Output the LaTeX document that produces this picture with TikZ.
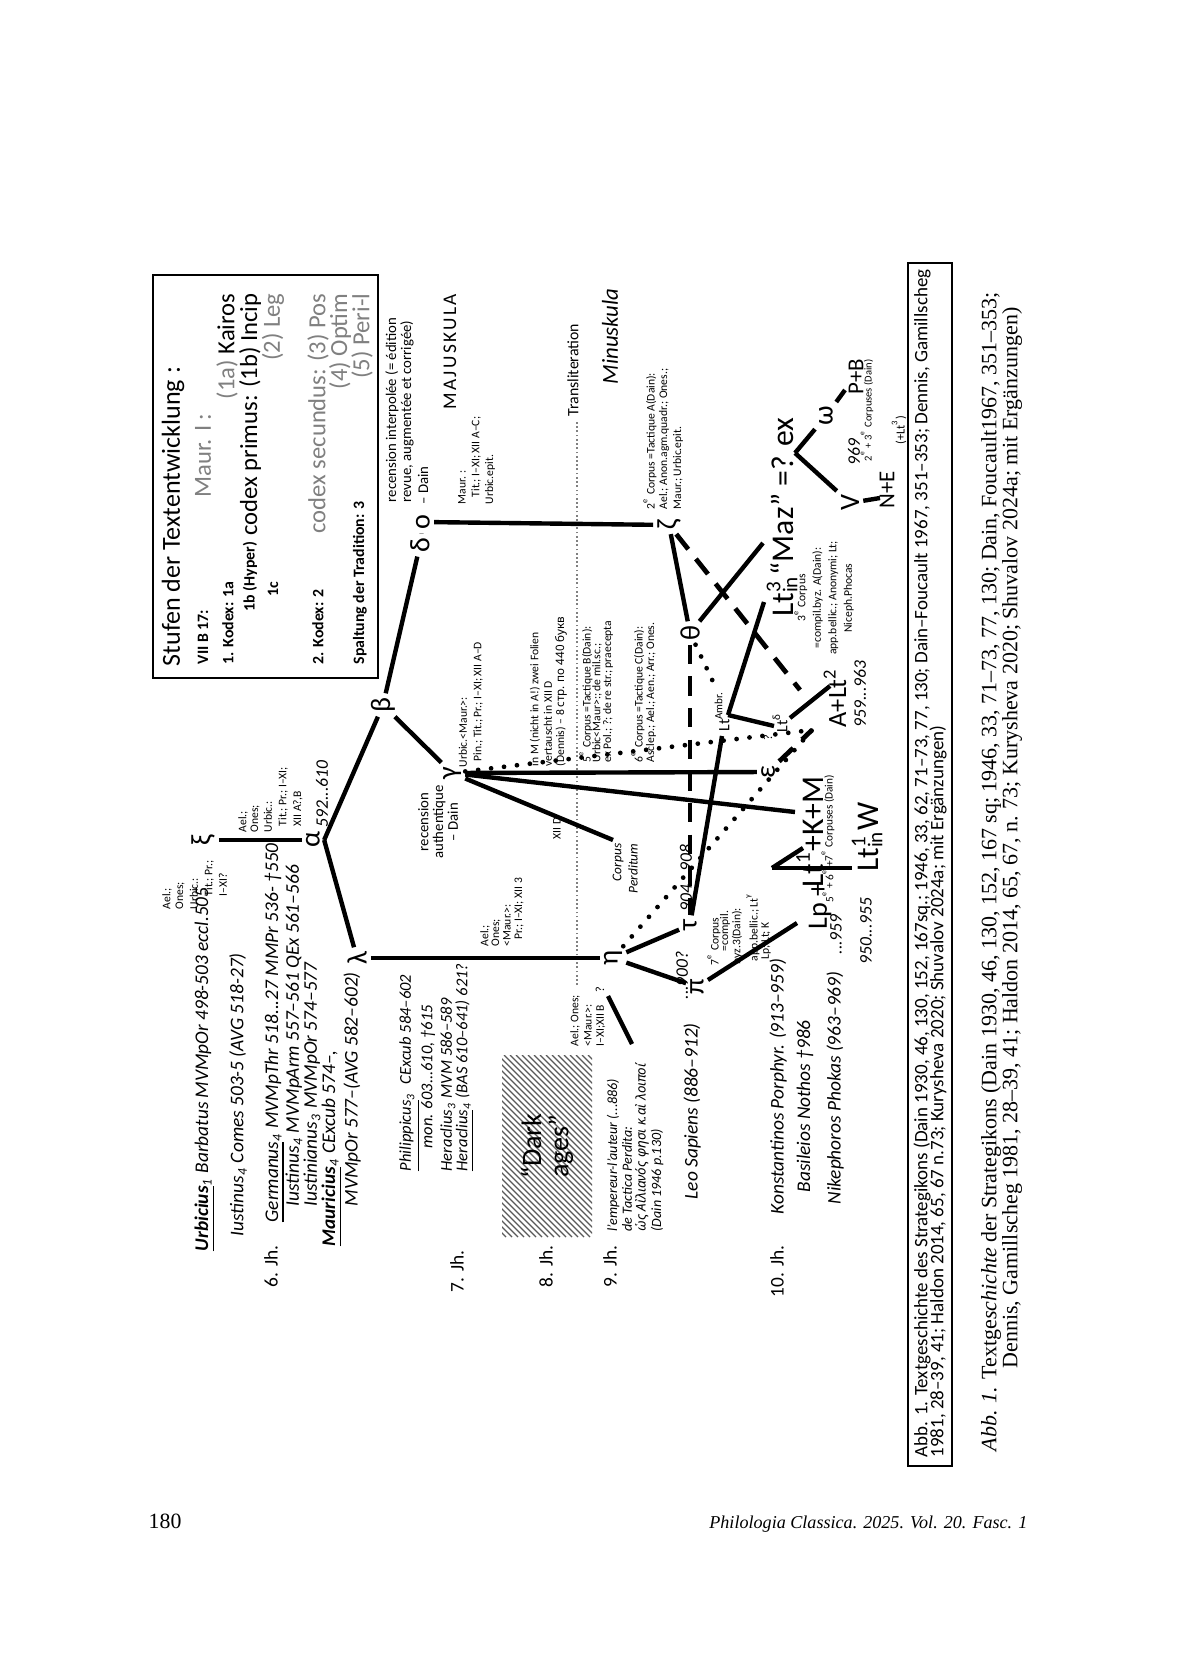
\documentclass[tikz,border=0pt]{standalone}
\usepackage{fontspec}
\setmainfont{Carlito}
\newfontfamily\serif{Liberation Serif}
\newfontfamily\notos{Noto Sans}
\newcommand{\fsz}[1]{\fontsize{#1}{#1}\selectfont}
\newcommand{\supsub}[2]{\rlap{\textsuperscript{#1}}\textsubscript{#2}}
\begin{document}
\begin{tikzpicture}[x=0.01cm,y=-0.01cm,
  rt/.style={rotate=90,anchor=west,inner sep=0pt},
  rte/.style={rotate=90,anchor=east,inner sep=0pt},
  rtc/.style={rotate=90,anchor=center,inner sep=0pt},
  sm/.style={rt,font=\fsz{3.3}},
  nm/.style={rt,font=\fsz{5.5}\itshape},
  nms/.style={rt,font=\fsz{4.7}\itshape},
  dt/.style={rt,font=\fsz{5}\itshape},
  bigt/.style={rt,font=\fsz{9}},
  gk/.style={rotate=90,inner sep=1pt,font=\fsz{8}},
  jh/.style={rte,font=\fsz{5.5}},
  boxb/.style={rt,font=\fsz{4.5}\bfseries},
  boxr/.style={rte,font=\fsz{7}},
  mid/.style={rt,font=\fsz{4.2}},
  ln/.style={line width=1.25pt},
  dsh/.style={line width=1.35pt,dash pattern=on 5.5pt off 3.5pt},
  dts/.style={line width=1.35pt,line cap=round,dash pattern=on 0pt off 3.7pt},
  trl/.style={gray,line width=0.4pt,dash pattern=on 0.5pt off 0.7pt},
  hatch/.style={gray!70!black,line width=0.35pt}
]
\useasboundingbox (0,0) rectangle (1200,1655);
\fill[white] (0,0) rectangle (1200,1655);

% ---------- box "Stufen" ----------
\coordinate (bx1) at (153,275); \coordinate (bx2) at (378,678);
\draw[line width=0.6pt] (bx1) rectangle (bx2);
\node[rt,font=\fsz{7.4}] (ttl) at (173,667) {Stufen der Textentwicklung :};
\node[boxb] (vii) at (203,665) {VII B 17:};
\node[rt,font=\fsz{7},text=gray] (maurI) at (203,498) {Maur. I :};
\node[boxb] (k1) at (228,665) {1. Kodex: 1a};
\node[boxr] (kai) at (227,293) {\textcolor{gray}{(1a)} Kairos};
\node[boxb] (k1b) at (250,612) {1b (Hyper)};
\node[boxr] (cprim) at (250,293) {codex primus: (1b) Incip};
\node[boxb] (k1c) at (273,597) {1c};
\node[boxr,text=gray] (leg) at (273,293) {(2) Leg};
\node[boxb] (k2) at (318,665) {2. Kodex: 2};
\node[boxr,text=gray] (csec) at (318,293) {codex secundus: (3) Pos};
\node[boxr,text=gray] (opt) at (340,293) {(4) Optim};
\node[boxb] (spt) at (360,665) {Spaltung der Tradition: 3};
\node[boxr,text=gray] (peri) at (362,293) {(5) Peri-l};

% ---------- upper texts ----------
\node[mid] (ri1) at (392,503) {recension interpolée (= édition};
\node[mid] (ri2) at (407,503) {revue, augmentée et corrigée)};
\node[mid] (ri3) at (423,505) {– Dain};
\node[rtc,font=\fsz{5.5}\addfontfeature{LetterSpace=12}] (maj) at (450,352) {MAJUSKULA};
\node[sm] (mr1) at (462,505) {Maur. :};
\node[sm] (mr2) at (476,498) {Tit.; I–XI; XII A–C;};
\node[sm] (mr3) at (490,505) {Urbic.epit.};
\node[rt,font=\fsz{4.5}] (trl) at (573,417) {Transliteration};
\node[rt,font=\fsz{6.5}\itshape] (minu) at (610,385) {Minuskula};
\node[sm] (z1) at (650,510) {2\textsuperscript{e} Corpus =Tactique A(Dain):};
\node[sm] (z2) at (664,510) {Ael.; Anon.agm.quadr.; Ones.;};
\node[sm] (z3) at (678,510) {Maur.; Urbic.epit.};

% ---------- greek nodes ----------
\node[gk] (xi) at (203,840) {ξ};
\node[gk] (alpha) at (313,840) {α};
\node[gk] (beta) at (383,705) {β};
\node[gk] (delta) at (420,545) {δ};
\node[gk] (omic) at (423,522) {o};
\node[gk] (lambda) at (357,958) {λ};
\node[gk] (eta) at (613,958) {η};
\node[gk] (gamma) at (452,773) {γ};
\node[gk] (tau) at (690,925) {τ};
\node[gk] (pi) at (697,987) {π};
\node[gk] (theta) at (690,633) {θ};
\node[gk] (zeta) at (669,525) {ζ};
\node[gk] (epsilon) at (768,772) {ε};
\node[gk] (omega) at (826,416) {ω};
\node[gk] (V) at (850,503) {V};

% ---------- labels of xi / alpha ----------
\node[sm] (xl1) at (167,910) {Ael.;};
\node[sm] (xl2) at (180,910) {Ones;};
\node[sm] (xl3) at (194,910) {Urbic.:};
\node[sm] (xl4) at (209,897) {Tit.; Pr.;};
\node[sm] (xl5) at (223,897) {I–XI?};
\node[sm] (al1) at (243,833) {Ael.;};
\node[sm] (al2) at (255,833) {Ones;};
\node[sm] (al3) at (268,833) {Urbic.:};
\node[sm] (al4) at (283,827) {Tit.; Pr.; I–XI;};
\node[sm] (al5) at (298,827) {XII A?,B};
\node[dt] (d592) at (322,828) {592...610};

% ---------- gamma region ----------
\node[sm] (g1) at (463,768) {Urbic.<Maur.>:};
\node[sm] (g2) at (478,762) {Pin.; Tit.; Pr.; I–XI; XII A–D};
\node[rtc,font=\fontsize{4.2}{4.2}\selectfont,align=center] (ra) at (438,822) {recension\\authentique\\– Dain};
\node[sm] (m1) at (535,767) {in M (nicht in A!) zwei Folien};
\node[sm] (m2) at (548,767) {vertauscht in XII D};
\node[sm] (m3) at (561,767) {(Dennis) – 8 {\notos стр. по 440 букв}};
\node[sm] (c5a) at (586,763) {5\textsuperscript{e} Corpus =Tactique B(Dain):};
\node[sm] (c5b) at (597,763) {Urbic<Maur>:; de mil.sc.;};
\node[sm] (c5c) at (608,763) {ex Pol.; ?; de re str.; praecepta};
\node[sm] (c6a) at (638,763) {6\textsuperscript{e} Corpus =Tactique C(Dain):};
\node[sm] (c6b) at (651,763) {Asclep.; Ael.; Aen.; Arr.; Ones.};
\node[sm] (xiid) at (557,840) {XII D};
\node[rte,font=\fsz{3.8}\itshape] (cp1) at (618,843) {Corpus};
\node[rte,font=\fsz{3.8}\itshape] (cp2) at (633,843) {Perditum};

% ---------- eta labels ----------
\node[sm] (e1) at (485,947) {Ael.;};
\node[sm] (e2) at (496,947) {Ones;};
\node[sm] (e3) at (507,947) {<Maur.>:};
\node[sm] (e4) at (519,940) {Pr.; I–XI; XII 3};
\node[sm] (f1) at (575,1047) {Ael.; Ones;};
\node[sm] (f2) at (588,1047) {<Maur.>:};
\node[sm] (f3) at (601,1047) {I–XI;XII B};
\node[rtc,font=\fsz{3.5}] (f4) at (600,990) {?};

% ---------- right cluster ----------
\node[rt,font=\fsz{4.5}] (lta) at (722,732) {Lt\textsuperscript{Ambr.}};
\node[rt,font=\fsz{4.5}] (ltd) at (780,733) {Lt\textsuperscript{δ}};
\node[rt,font=\fsz{7.5}] (alt2) at (835,728) {A+Lt\textsuperscript{2}};
\node[dt] (d959b) at (860,728) {959...963};
\node[rtc,font=\fsz{3.5}] (q1) at (768,738) {?};
\node[rtc,font=\fsz{3.5}] (q2) at (738,806) {?};
\node[bigt] (lt3) at (782,617) {Lt\supsub{3}{in}“Maz” =? ex};
\node[rtc,font=\fontsize{3.3}{4.4}\selectfont,align=center] (l3lab) at (824,598) {3\textsuperscript{e} Corpus\\=compil.byz. A(Dain):\\app.bellic.; Anonymi; Lt;\\Niceph.Phocas};
\node[rt,font=\fsz{6.5}] (pb) at (856,395) {P+B};
\node[rtc,font=\fsz{5}\itshape] (d969) at (854,452) {969};
\node[rt,font=\fsz{3}] (c23) at (867,462) {2\textsuperscript{e} + 3\textsuperscript{e} Corpuses (Dain)};
\node[rt,font=\fsz{6.5}] (ne) at (887,509) {N+E};
\node[rtc,font=\fsz{3.5}] (plt3) at (899,430) {(+Lt\textsuperscript{3})};

% ---------- tau / pi cluster ----------
\node[dt] (d904) at (686,912) {904...908};
\node[dt] (d900) at (682,1000) {...900?};
\node[sm] (t1) at (714,966) {7\textsuperscript{e} Corpus};
\node[sm] (t2) at (725,952) {=compil.};
\node[sm] (t3) at (737,965) {byz.3(Dain):};
\node[sm] (t4) at (753,962) {app.bellic.; Lt\textsuperscript{γ}};
\node[sm] (t5) at (766,960) {Lp; Lt; K};
\node[rt,font=\fsz{8}] (lp) at (820,930) {Lp +};
\node[rt,font=\fsz{9}] (lt1km) at (810,888) {Lt\textsuperscript{1}+K+M};
\node[rt,font=\fsz{3.2}] (c56) at (828,903) {5\textsuperscript{e} + 6\textsuperscript{e} +};
\node[rt,font=\fsz{3.2}] (c7) at (828,862) {7\textsuperscript{e} Corpuses (Dain)};
\node[dt] (d959) at (836,955) {...959};
\node[rt,font=\fsz{9}] (lt1w) at (867,872) {Lt\supsub{1}{in}W};
\node[dt] (d950) at (866,965) {950...955};

% ---------- left names ----------
\node[nm] (urb) at (205,1252) {\textbf{\underline{Urbicius}}\textsubscript{1} Barbatus MVMpOr 498-503 eccl.505};
\node[nm] (iust) at (238,1237) {Iustinus\textsubscript{4} Comes 503-5 (AVG 518-27)};
\node[jh] (jh6) at (271,1245) {6. Jh.};
\node[nm] (germ) at (275,1223) {\underline{Germanus}\textsubscript{4} MVMpThr 518...27 MMPr 536- †550};
\node[nm] (iust2) at (294,1207) {Iustinus\textsubscript{4} MVMpArm 557–561 QEx 561–566};
\node[nm] (iustn) at (312,1207) {Iustinianus\textsubscript{3} MVMpOr 574–577};
\node[nm] (maur) at (332,1247) {\textbf{\underline{Mauricius}}\textsubscript{4} CExcub 574–,};
\node[nm] (maur2) at (352,1207) {MVMpOr 577–(AVG 582–602)};
\node[nms] (phil) at (410,1172) {\underline{Philippicus}\textsubscript{3}\enspace CExcub 584–602};
\node[nms] (mon) at (428,1149) {mon. 603...610, †615};
\node[nms] (her3) at (448,1172) {Heraclius\textsubscript{3} MVM 586–589};
\node[nms] (her4) at (465,1172) {\underline{Heraclius}\textsubscript{4} (BAS 610–641) 621?};
\node[jh] (jh7) at (457,1250) {7. Jh.};
\node[jh] (jh8) at (546,1245) {8. Jh.};
\node[jh] (jh9) at (610,1245) {9. Jh.};
\node[jh] (jh10) at (777,1245) {10. Jh.};
\node[rt,font=\fsz{4}\itshape] (lemp) at (613,1232) {l'empereur-l'auteur (...886)};
\node[rt,font=\fsz{4}\itshape] (tact) at (627,1232) {de Tactica Perdita:};
\node[rt,font=\fsz{3.8}\itshape\notos] (grk) at (642,1232) {ὡς Αἰλιανός φησι κ.αἰ λοιποί};
\node[rt,font=\fsz{4}\itshape] (d46) at (657,1232) {(Dain 1946 p.130)};
\node[nm] (leo) at (692,1200) {Leo Sapiens (886–912)};
\node[nm] (konst) at (778,1215) {Konstantinos Porphyr. (913–959)};
\node[nm] (basil) at (805,1193) {Basileios Nothos †986};
\node[nm] (nikeph) at (835,1205) {Nikephoros Phokas (963–969)};

% ---------- Dark ages ----------
\coordinate (dk1) at (502,1055); \coordinate (dk2) at (592,1237);
\begin{scope}
  \clip (dk1) rectangle (dk2);
  \foreach \i in {-190,-184,...,100} \draw[hatch] ({502+\i},1055) -- ({684+\i},1237);
\end{scope}
\node[rtc,font=\fontsize{8}{7.8}\selectfont,align=center] (dark) at (547,1146) {“Dark\\ages”};

% ---------- coordinates for connector ends ----------
\coordinate (cLp) at (797,923);
\coordinate (cM3) at (763,543);
\coordinate (cL3) at (764,602);
\coordinate (cLa) at (728,715);
\coordinate (cLb) at (722,736);
\coordinate (cLa2) at (716,688);
\coordinate (cLd) at (774,726);
\coordinate (cLd2) at (790,718);
\coordinate (cA2) at (830,686);
\coordinate (cA3) at (800,690);
\coordinate (jA) at (812,730);
\coordinate (cK) at (795,812);
\coordinate (cCP) at (613,840);
\coordinate (jg) at (772,868);
\coordinate (cKM) at (803,848);
\coordinate (cW) at (852,868);
\coordinate (jex) at (795,453);
\coordinate (cPB) at (845,390);
\coordinate (cNE) at (880,498);
\coordinate (cQ1) at (608,996);
\coordinate (cQ2) at (632,1044);
\coordinate (tr1) at (577,985);
\coordinate (tr2) at (577,420);

% ---------- connectors ----------
\draw[trl] (tr1) -- (tr2);
\draw[ln] (xi) -- (alpha);
\draw[ln] (alpha.south) -- (lambda);
\draw[ln] (alpha.south) -- (beta);
\draw[ln] (beta) -- (delta);
\draw[ln] (delta) -- (omic);
\draw[ln] (omic) -- (zeta);
\draw[ln] (beta) -- (gamma);
\draw[ln] (lambda) -- (eta);
\draw[ln] (eta) -- (tau);
\draw[ln] (eta) -- (pi);
\draw[ln] (pi) -- (cLp);
\draw[ln] (zeta) -- (theta);
\draw[ln] (theta) -- (cM3);
\draw[ln] (cLa) -- (cL3);
\draw[ln] (cLa) -- (cLd);
\draw[ln] (cLd2) -- (cA2);
\draw[ln] (cLb) -- (tau);
\draw[ln] (gamma) -- (epsilon);
\draw[ln] (gamma) -- (cK);
\draw[ln] (gamma) -- (cCP);
\draw[dts] (gamma) -- (jA);
\draw[dts] (eta) -- (jA);
\draw[dts] (theta) -- (cLa2);
\draw[dsh] (theta) -- (tau);
\draw[dsh] (zeta) -- (cA3);
\draw[dsh] (epsilon) -- (jA);
\draw[ln] (jg) -- (cKM);
\draw[ln] (jg) -- (cW);
\draw[ln] (jex) -- (V);
\draw[ln] (jex) -- (omega);
\draw[ln] (omega) -- (cPB);
\draw[ln] (V) -- (cNE);
\draw[ln] (cQ1) -- (cQ2);

% ---------- caption box ----------
\coordinate (cb1) at (908,263); \coordinate (cb2) at (952,1466);
\draw[line width=0.6pt] (cb1) rectangle (cb2);
\node[rt,font=\fsz{5.4}] (cap1) at (922,1458) {Abb. 1. Textgeschichte des Strategikons (Dain 1930, 46, 130, 152, 167sq.; 1946, 33, 62, 71–73, 77, 130; Dain–Foucault 1967, 351–353; Dennis, Gamillscheg};
\node[rt,font=\fsz{5.4}] (cap2) at (938,1458) {1981, 28–39, 41; Haldon 2014, 65, 67 n.73; Kurysheva 2020; Shuvalov 2024a; mit Ergänzungen)};
\node[rt,font=\serif\fsz{6.25}] (ic1) at (991,1452) {\textit{Abb. 1.} Textge\textit{schichte} der Strategikons (Dain 1930, 46, 130, 152, 167 sq; 1946, 33, 71–73, 77, 130; Dain, Foucault1967, 351–353;};
\node[rtc,font=\serif\fsz{6.25}] (ic2) at (1012,838) {Dennis, Gamillscheg 1981, 28–39, 41; Haldon 2014, 65, 67, n. 73; Kurysheva 2020; Shuvalov 2024a; mit Ergänzungen)};

% ---------- footer ----------
\node[anchor=base west,inner sep=0pt,font=\serif\fsz{6.2}] (pg) at (148,1528) {180};
\node[anchor=base east,inner sep=0pt,font=\serif\itshape\fsz{5.15}] (jt) at (1028,1528) {Philologia Classica. 2025. Vol. 20. Fasc. 1};
\end{tikzpicture}
\end{document}
